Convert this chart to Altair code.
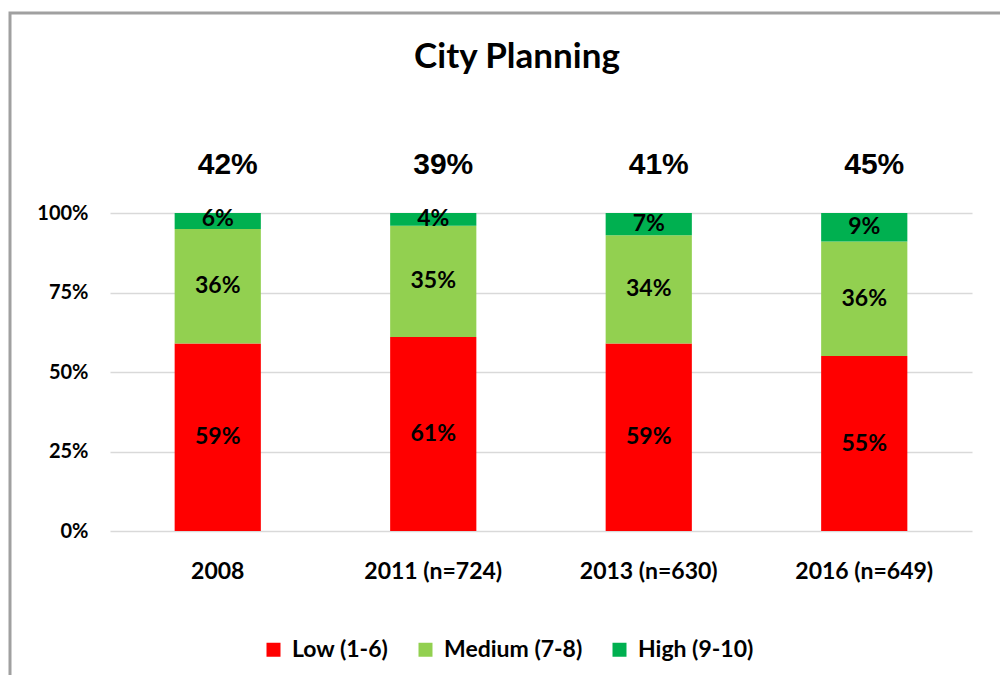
import altair as alt
import pandas as pd

TITLE = ["City Planning"]
years = ["2008", "2011 (n=724)", "2013 (n=630)", "2016 (n=649)"]
levels = ["Low (1-6)", "Medium (7-8)", "High (9-10)"]
low = [59, 61, 59, 55]
medium = [36, 35, 34, 36]
high = [6, 4, 7, 9]
top_totals = [42, 39, 41, 45]
colors = ["#FF0000", "#92D050", "#00B050"]

rows = []
for i, yr in enumerate(years):
    for r, (lvl, vals) in enumerate(zip(levels, [low, medium, high])):
        rows.append({"year": yr, "level": lvl, "rank": r,
                     "pct": vals[i] / 100, "label": f"{vals[i]}%"})
df = pd.DataFrame(rows)
tops = pd.DataFrame({"year": years, "label": [f"{t}%" for t in top_totals]})
title_df = pd.DataFrame({"t": TITLE})

FONT = "Lato"

x = alt.X("year:N", sort=years,
          scale=alt.Scale(paddingInner=0.6, paddingOuter=0.3),
          axis=alt.Axis(title=None, labelAngle=0, ticks=False, domain=False, grid=False,
                        labelFont=FONT, labelFontSize=23, labelFontWeight="bold",
                        labelColor="black", labelPadding=29))
yscale = alt.Scale(domain=[0, 1], clamp=True)

bars = alt.Chart(df).mark_bar(strokeWidth=0).encode(
    x=x,
    y=alt.Y("pct:Q", stack="zero", scale=yscale,
            axis=alt.Axis(title=None, format="%", values=[0, 0.25, 0.5, 0.75, 1],
                          ticks=False, domain=False, gridColor="#d9d9d9", gridWidth=1.5,
                          labelFont=FONT, labelFontSize=20, labelFontWeight="bold",
                          labelColor="black", labelPadding=22)),
    color=alt.Color("level:N", scale=alt.Scale(domain=levels, range=colors),
                    legend=alt.Legend(orient="none", legendX=152, legendY=425,
                                      direction="horizontal", title=None,
                                      symbolType="square", symbolSize=196,
                                      symbolStrokeWidth=0, labelFont=FONT,
                                      labelFontSize=23, labelFontWeight="bold",
                                      labelColor="black", columnPadding=25,
                                      labelOffset=7)),
    order=alt.Order("rank:Q", sort="ascending"),
)

seg_text = alt.Chart(df).transform_stack(
    stack="pct", groupby=["year"], as_=["y0", "y1"],
    sort=[alt.SortField("rank", order="ascending")]
).transform_calculate(
    mid="(datum.y0 + datum.y1) / 2"
).mark_text(font=FONT, fontSize=23, fontWeight="bold", color="black",
            baseline="middle").encode(
    x=alt.X("year:N", sort=years),
    y=alt.Y("mid:Q", scale=yscale),
    text="label:N",
)

top_text = alt.Chart(tops).mark_text(
    font="Liberation Sans", fontSize=30, fontWeight="bold", color="black",
    baseline="alphabetic", dx=10, dy=-39
).encode(
    x=alt.X("year:N", sort=years),
    y=alt.datum(1),
    text="label:N",
)

title = alt.Chart(title_df).mark_text(
    font=FONT, fontSize=35, fontWeight="bold", color="black",
    baseline="middle", align="center"
).encode(
    x=alt.value(407), y=alt.value(-156), text="t:N"
)

frame = alt.Chart(title_df).mark_rect(
    fill=None, stroke="#a0a0a0", strokeWidth=3
).encode(
    x=alt.value(-100), x2=alt.value(1200),
    y=alt.value(-200), y2=alt.value(900),
)

chart = alt.layer(frame, bars, seg_text, top_text, title).properties(
    width=862, height=318,
    autosize=alt.AutoSizeParams(type="none"),
    padding={"left": 102, "top": 205, "right": 28, "bottom": 144},
).configure(background="white").configure_view(stroke=None)

chart.save("out.html", embed_options={"renderer": "svg", "actions": False})
